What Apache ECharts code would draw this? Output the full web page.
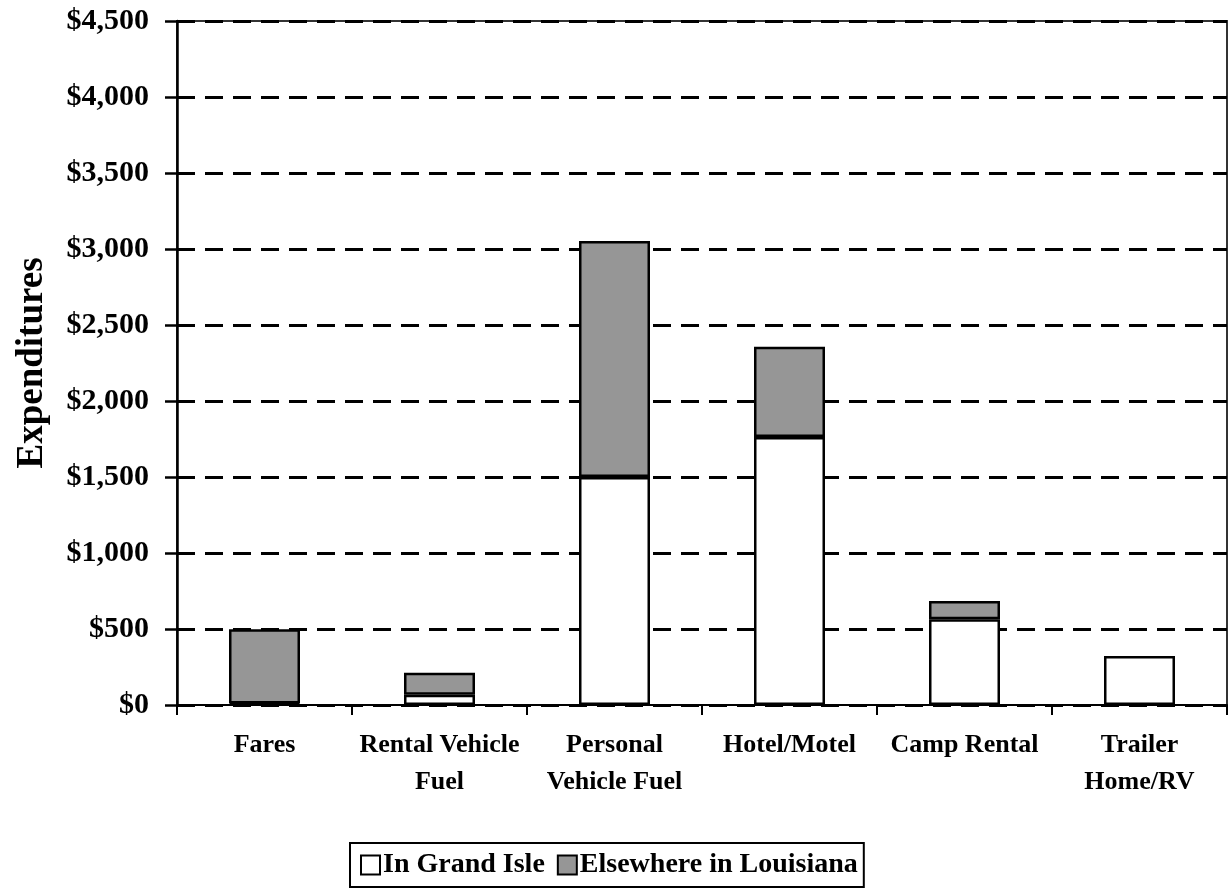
<!DOCTYPE html>
<html lang="en">
<head>
  <meta charset="UTF-8">
  <title>Expenditures</title>
  <script type="text/javascript" src="https://cdn.jsdelivr.net/npm/echarts@6/dist/echarts.min.js"></script>
  <style>
    html, body, #container {
      width: 100%;
      height: 100%;
      margin: 0;
      padding: 0;
      overflow: hidden;
      background: #fff;
    }
  </style>
</head>
<body>
  <div id="container"></div>

  <script type="text/javascript">
    var categories = ['Fares', 'Rental Vehicle\nFuel', 'Personal\nVehicle Fuel', 'Hotel/Motel', 'Camp Rental', 'Trailer\nHome/RV'];
    var inGrandIsle = [10, 68, 1500, 1763, 564, 322];
    var elsewhere = [488, 144, 1553, 594, 120, 0];

    var font = 'Liberation Serif';

    var myChart = echarts.init(document.getElementById('container'), null, { renderer: 'canvas' });
    myChart.setOption({
      backgroundColor: '#fff',
      animation: false,
      grid: {
        left: 177, right: 2, top: 21, bottom: 187,
        outerBoundsMode: 'none',
        containLabel: false,
        show: true,
        borderColor: '#333',
        borderWidth: 2
      },
      legend: {
        left: 350,
        top: 843,
        orient: 'horizontal',
        icon: 'rect',
        itemWidth: 19,
        itemHeight: 19,
        itemGap: 12,
        padding: [8, 6, 8, 10],
        borderColor: '#000',
        borderWidth: 2,
        textStyle: { fontFamily: font, fontWeight: 'bold', fontSize: 28, color: '#000', padding: [0, 0, 0, -2] },
        data: [
          { name: 'In Grand Isle', itemStyle: { color: '#fff', borderColor: '#000', borderWidth: 2 } },
          { name: 'Elsewhere in Louisiana', itemStyle: { color: '#969696', borderColor: '#000', borderWidth: 2 } }
        ]
      },
      xAxis: {
        type: 'category',
        data: categories,
        axisLine: { lineStyle: { color: '#000', width: 2 } },
        axisTick: { show: true, length: 10, lineStyle: { color: '#000', width: 2 } },
        axisLabel: {
          fontFamily: font, fontWeight: 'bold', fontSize: 26, color: '#000',
          margin: 22, lineHeight: 37, interval: 0
        },
        splitLine: { show: false }
      },
      yAxis: {
        type: 'value',
        min: 0,
        max: 4500,
        interval: 500,
        name: 'Expenditures',
        nameLocation: 'middle',
        nameGap: 126,
        nameTextStyle: { fontFamily: font, fontWeight: 'bold', fontSize: 37, color: '#000' },
        axisLine: { show: true, lineStyle: { color: '#000', width: 2.5 } },
        axisTick: { show: true, inside: false, length: 12, lineStyle: { color: '#000', width: 2.5 } },
        axisLabel: {
          fontFamily: font, fontWeight: 'bold', fontSize: 30, color: '#000', margin: 28,
          formatter: function (v) { return '$' + v.toLocaleString('en-US'); }
        },
        splitLine: { show: true, lineStyle: { color: '#000', width: 3, type: [18, 10] } }
      },
      series: [
        {
          name: 'In Grand Isle',
          type: 'bar',
          stack: 'total',
          barWidth: 71,
          data: inGrandIsle.map(function (v) { return v > 0 ? v : '-'; }),
          itemStyle: { color: '#fff', borderColor: '#000', borderWidth: 2.5 }
        },
        {
          name: 'Elsewhere in Louisiana',
          type: 'bar',
          stack: 'total',
          barWidth: 71,
          data: elsewhere.map(function (v) { return v > 0 ? v : '-'; }),
          itemStyle: { color: '#969696', borderColor: '#000', borderWidth: 2.5 }
        }
      ]
    });
  </script>
</body>
</html>
